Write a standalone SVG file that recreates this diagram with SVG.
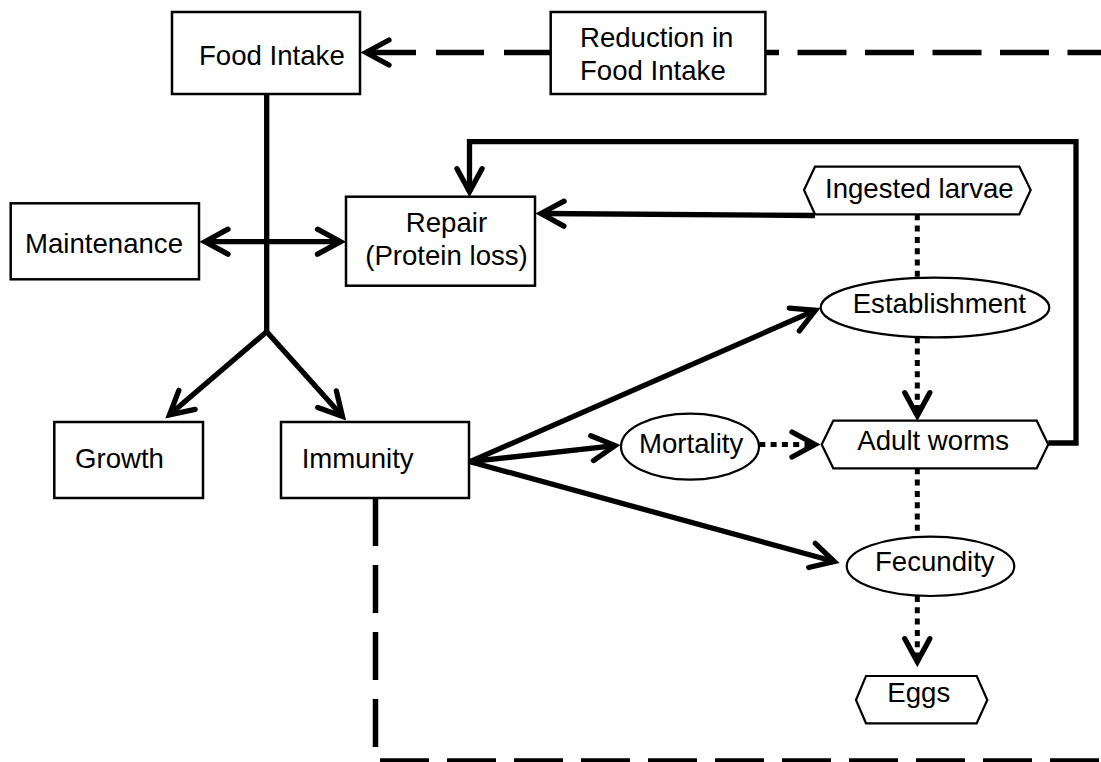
<svg xmlns="http://www.w3.org/2000/svg" width="1101" height="762" viewBox="0 0 1101 762">
<style>
  .box { fill: #fff; stroke: #000; stroke-width: 2.5; }
  .shape { fill: #fff; stroke: #000; stroke-width: 2.2; }
  .lbl { font-family: "Liberation Sans", Arial, sans-serif; font-size: 27.6px; fill: #000; }
  .mid { text-anchor: middle; }
  .solid { fill: none; stroke: #000; stroke-width: 5.3; stroke-linejoin: miter; }
  .dash { fill: none; stroke: #000; stroke-width: 5.5; stroke-dasharray: 48 19; }
  .dot { fill: none; stroke: #000; stroke-width: 5; stroke-dasharray: 6 5.3; }
  .head { fill: none; stroke: #000; stroke-width: 5.3; stroke-linecap: round; stroke-linejoin: miter; stroke-dasharray: none; }
</style>
<defs>
  <marker id="arr" markerUnits="userSpaceOnUse" markerWidth="40" markerHeight="40" viewBox="-30 -20 40 40" refX="0" refY="0" orient="auto" overflow="visible">
    <path class="head" d="M-23,-12.5 L0,0 L-23,12.5"/>
  </marker>
  <marker id="arrS" markerUnits="userSpaceOnUse" markerWidth="40" markerHeight="40" viewBox="-30 -20 40 40" refX="0" refY="0" orient="auto-start-reverse" overflow="visible">
    <path class="head" d="M-23,-12.5 L0,0 L-23,12.5"/>
  </marker>
</defs>
<rect width="1101" height="762" fill="#fff"/>
<g id="connectors">
  <path class="dash" style="stroke-dasharray:46 20 48 20 60" d="M550,52.5 H366" marker-end="url(#arr)"/>
  <path class="dash" style="stroke-dasharray:49 18.5" d="M730,52.5 H1110"/>
  <path class="solid" d="M266.7,94 V333"/>
  <path class="solid" d="M169.5,414.8 L266.7,331.7 L342.4,416.3" marker-start="url(#arrS)" marker-end="url(#arr)"/>
  <path class="solid" d="M205,241.7 H340.5" marker-start="url(#arrS)" marker-end="url(#arr)"/>
  <path class="solid" d="M1048.3,443 H1076 V141.7 H469.5 V191.7" marker-end="url(#arr)"/>
  <path class="solid" d="M815,215.5 L541,213.5" marker-end="url(#arr)"/>
  <path class="solid" d="M470,461.7 L815.4,310.3" marker-end="url(#arr)"/>
  <path class="solid" d="M470,461.7 L615,445.6" marker-end="url(#arr)"/>
  <path class="solid" d="M470,461.7 L834.2,561.5" marker-end="url(#arr)"/>
  <path class="dot" d="M917.3,214.3 V277.7"/>
  <path class="dot" d="M917.3,337.3 V415.7" marker-end="url(#arr)"/>
  <path class="dot" d="M917.3,468.3 V536.7"/>
  <path class="dot" d="M917.3,596 V661.7" marker-end="url(#arr)"/>
  <path class="dot" d="M759.3,444.5 H815" marker-end="url(#arr)"/>
  <path class="dash" d="M375.5,498 V747.3"/>
  <path class="dash" style="stroke-dasharray:49 18" d="M380,761 H1110"/>
</g>
<g id="food-intake">
  <rect class="box" x="172" y="12" width="188" height="82"/>
  <text class="lbl" x="199" y="65">Food Intake</text>
</g>
<g id="reduction">
  <rect class="box" x="550.7" y="12" width="214.7" height="82"/>
  <text class="lbl" x="580" y="46.7">Reduction in</text>
  <text class="lbl" x="580" y="80">Food Intake</text>
</g>
<g id="maintenance">
  <rect class="box" x="10.7" y="203.3" width="188.3" height="76"/>
  <text class="lbl" x="25" y="252.7">Maintenance</text>
</g>
<g id="repair">
  <rect class="box" x="346" y="196.7" width="189" height="89"/>
  <text class="lbl mid" x="446.5" y="232">Repair</text>
  <text class="lbl mid" x="446.5" y="265">(Protein loss)</text>
</g>
<g id="growth">
  <rect class="box" x="54.3" y="422" width="148.7" height="76"/>
  <text class="lbl" x="75" y="468">Growth</text>
</g>
<g id="immunity">
  <rect class="box" x="281" y="422" width="188" height="76"/>
  <text class="lbl" x="301.7" y="468">Immunity</text>
</g>
<g id="ingested-larvae">
  <polygon class="shape" points="804,190 815,166.7 1019.3,166.7 1030.7,190 1019.3,214.3 815,214.3"/>
  <text class="lbl" x="825" y="198.3">Ingested larvae</text>
</g>
<g id="establishment">
  <ellipse class="shape" cx="935" cy="307.5" rx="114.3" ry="29.8"/>
  <text class="lbl" x="852.7" y="313.3">Establishment</text>
</g>
<g id="adult-worms">
  <polygon class="shape" points="821.7,444.5 833.3,420.7 1036.7,420.7 1048.3,444.5 1036.7,468.3 833.3,468.3"/>
  <text class="lbl" x="857.3" y="450">Adult worms</text>
</g>
<g id="mortality">
  <ellipse class="shape" cx="690" cy="446.7" rx="69" ry="33"/>
  <text class="lbl" x="639" y="452.5">Mortality</text>
</g>
<g id="fecundity">
  <ellipse class="shape" cx="930.5" cy="566.3" rx="83.8" ry="29.7"/>
  <text class="lbl" x="875" y="570.7">Fecundity</text>
</g>
<g id="eggs">
  <polygon class="shape" points="856,700 866,676 976.7,676 987.3,700 976.7,723.3 866,723.3"/>
  <text class="lbl" x="887.3" y="701.7">Eggs</text>
</g>
</svg>
